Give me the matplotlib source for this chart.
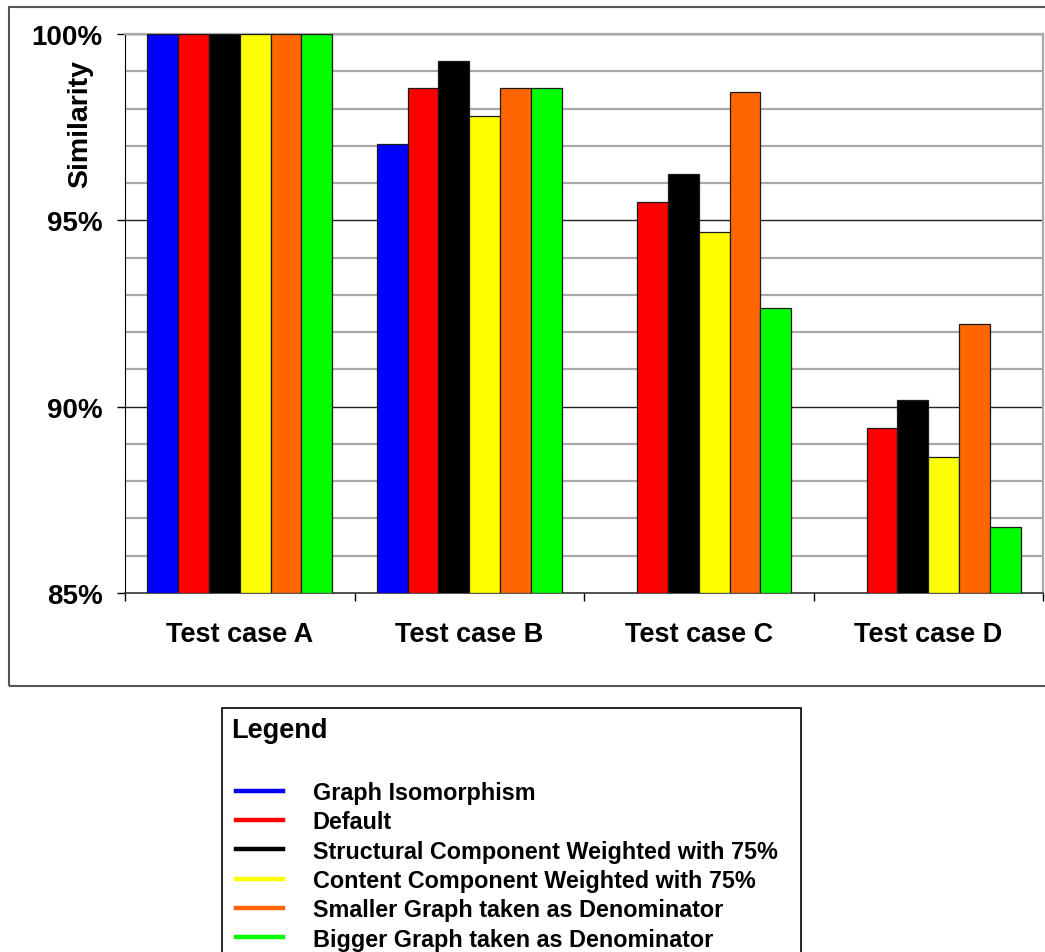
import numpy as np
import matplotlib
matplotlib.use('Agg')
from matplotlib import pyplot as plt
from matplotlib.lines import Line2D
from matplotlib.patches import Rectangle
from matplotlib.ticker import FixedLocator, FuncFormatter

plt.rcParams['font.family'] = ['Liberation Sans', 'DejaVu Sans']
plt.rcParams['font.weight'] = 'bold'

cases = ['Test case A', 'Test case B', 'Test case C', 'Test case D']
series = ['Graph Isomorphism',
          'Default',
          'Structural Component Weighted with 75%',
          'Content Component Weighted with 75%',
          'Smaller Graph taken as Denominator',
          'Bigger Graph taken as Denominator']
colors = ['#0000ff', '#ff0000', '#000000', '#ffff00', '#ff6600', '#00ff00']

# similarity in percent, one list per method (nan = no bar shown)
graph_iso = [100.0, 97.05, np.nan, np.nan]
default = [100.0, 98.55, 95.49, 89.43]
structural75 = [100.0, 99.28, 96.24, 90.18]
content75 = [100.0, 97.80, 94.69, 88.65]
smaller_denom = [100.0, 98.55, 98.44, 92.22]
bigger_denom = [100.0, 98.55, 92.65, 86.78]
values = [graph_iso, default, structural75, content75, smaller_denom, bigger_denom]

W, H = 1045, 953
fig = plt.figure(figsize=(W / 100, H / 100), dpi=100)

# outer chart frame and legend frame
fig.patches.append(Rectangle((9 / W, 1 - 687 / H), (1060 - 9) / W, (687 - 8) / H,
                             transform=fig.transFigure, fill=False,
                             edgecolor='#555555', linewidth=1.5))
fig.patches.append(Rectangle((222 / W, -0.05), (801 - 222) / W, 0.05 + 1 - 709 / H,
                             transform=fig.transFigure, fill=False,
                             edgecolor='#000000', linewidth=1.2))

ax = fig.add_axes([125 / W, 1 - 594 / H, (1043 - 125) / W, (594 - 35) / H])

x = np.arange(len(cases))
bw = 0.134
for i, (vals, col) in enumerate(zip(values, colors)):
    offs = (i - 2.5) * bw
    ax.bar(x + offs, np.array(vals) - 85, bw, bottom=85, color=col,
           edgecolor='#1a1a1a', linewidth=0.9, zorder=3)

ax.set_xlim(-0.5, 3.5)
ax.set_ylim(85, 100)

# grid
for v in range(86, 101):
    if v % 5 == 0:
        ax.axhline(v, color='#222222', linewidth=1.0, zorder=1)
    else:
        ax.axhline(v, color='#a8a8a8', linewidth=1.6, zorder=1)

ax.yaxis.set_major_locator(FixedLocator([85, 90, 95, 100]))
ax.yaxis.set_major_formatter(FuncFormatter(lambda v, p: '%d%%' % v))
ax.tick_params(axis='y', direction='out', length=6, width=1, pad=10,
               labelsize=20, colors='black')
ax.set_xticks(x)
ax.set_xticklabels(cases)
ax.set_xticks([-0.5, 0.5, 1.5, 2.5, 3.5], minor=True)
ax.tick_params(axis='x', which='major', length=0, pad=20, labelsize=19.5)
ax.tick_params(axis='x', which='minor', direction='out', length=6, width=1)
for lab in ax.get_xticklabels() + ax.get_yticklabels():
    lab.set_fontweight('bold')

for s in ['top', 'right']:
    ax.spines[s].set_color('#a8a8a8')
    ax.spines[s].set_linewidth(1.6)
ax.spines['left'].set_color('black')
ax.spines['bottom'].set_color('#333333')
ax.spines['bottom'].set_linewidth(1.2)

fig.text(80 / W, 1 - 124 / H, 'Similarity', rotation=90, ha='center', va='center',
         fontsize=20.5, fontweight='bold')

# legend
fig.text(231 / W, 1 - 731 / H, 'Legend', ha='left', va='center',
         fontsize=19.5, fontweight='bold')
handles = [Line2D([0], [0], color=c, linewidth=3.2) for c in colors]
leg = fig.legend(handles, series, loc='upper left',
                 bbox_to_anchor=(236 / W, 1 - 782 / H), frameon=False,
                 borderpad=0, borderaxespad=0, handlelength=2.0,
                 handletextpad=1.28, labelspacing=0.27,
                 prop={'size': 16.8, 'weight': 'bold'})

fig.savefig('out.png', dpi=100)
